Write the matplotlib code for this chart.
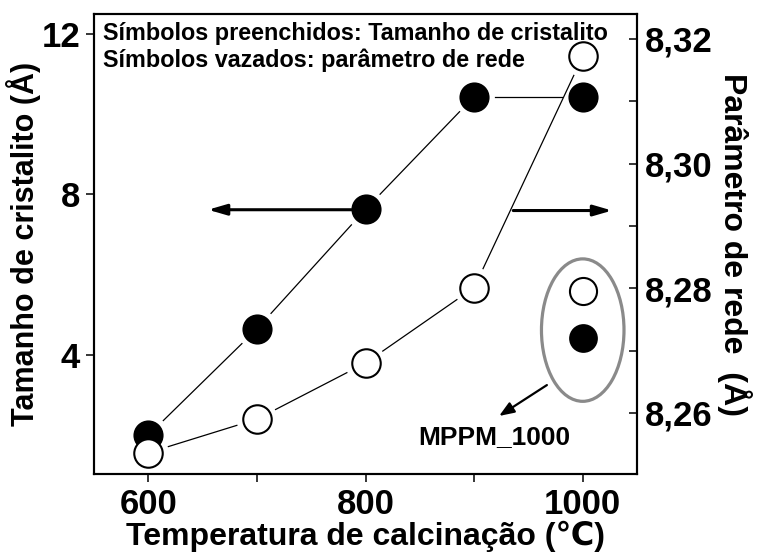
import numpy as np
import matplotlib
matplotlib.use("Agg")
import matplotlib.pyplot as plt
from matplotlib.patches import Ellipse

# fonte parecida com Arial negrito
plt.rcParams['font.family'] = ['Liberation Sans', 'DejaVu Sans']
plt.rcParams['font.weight'] = 'bold'

# dados
temperatura = [600, 700, 800, 900, 1000]
tamanho_cristalito = [2.0, 4.65, 7.63, 10.44, 10.44]      # símbolos preenchidos (eixo esquerdo)
parametro_rede = [8.2536, 8.2590, 8.2680, 8.2801, 8.3172]  # símbolos vazados (eixo direito)

# amostra MPPM_1000
mppm_temperatura = [1000]
mppm_tamanho = [4.42]
mppm_parametro = [8.2795]

xticks = [600, 700, 800, 900, 1000]
xtick_labels = ['600', '', '800', '', '1000']
yticks_esq = [4, 8, 12]
yticks_dir = [8.26, 8.28, 8.30, 8.32]
yticks_dir_labels = ['8,26', '8,28', '8,30', '8,32']
yticks_dir_menores = [8.27, 8.29, 8.31]

fig = plt.figure(figsize=(7.6, 5.56), dpi=100)
ax = fig.add_axes([0.1237, 0.1475, 0.7145, 0.8273])
ax2 = ax.twinx()

ax.set_xlim(550, 1050)
ax.set_ylim(1.034, 12.498)
ax2.set_ylim(8.2502, 8.324)


# linhas finas que não encostam nos símbolos
def linha_com_folga(eixo, xs, ys, folga=21):
    trans = eixo.transData
    pts = trans.transform(np.column_stack([xs, ys]))
    for p0, p1 in zip(pts[:-1], pts[1:]):
        d = p1 - p0
        u = d / np.hypot(*d)
        seg = trans.inverted().transform([p0 + u * folga, p1 - u * folga])
        eixo.plot(seg[:, 0], seg[:, 1], color='black', lw=0.9, zorder=1)


linha_com_folga(ax, temperatura, tamanho_cristalito)
linha_com_folga(ax2, temperatura, parametro_rede)

ms = 20.5
ax.plot(temperatura, tamanho_cristalito, 'o', ms=ms, mfc='black', mec='black', mew=1.2, zorder=3)
ax2.plot(temperatura, parametro_rede, 'o', ms=ms, mfc='white', mec='black', mew=1.5, zorder=3)
ax.plot(mppm_temperatura, mppm_tamanho, 'o', ms=ms - 1, mfc='black', mec='black', mew=1.2, zorder=3)
ax2.plot(mppm_temperatura, mppm_parametro, 'o', ms=ms - 1, mfc='white', mec='black', mew=1.5, zorder=3)

# setas indicando os eixos
seta = dict(arrowstyle='-|>,head_length=1.1,head_width=0.32', lw=2.2, color='black',
            shrinkA=0, shrinkB=0, mutation_scale=10)
ax.annotate('', xy=(655, 7.62), xytext=(787, 7.62), arrowprops=seta)
ax.annotate('', xy=(1027, 7.6), xytext=(936, 7.6), arrowprops=seta)

# elipse cinza em volta da amostra MPPM_1000
ax.add_patch(Ellipse((1000, 4.62), width=76, height=3.55, fill=False,
                     edgecolor='#8a8a8a', lw=2.3, zorder=2))
ax.annotate('', xy=(923, 2.48), xytext=(967, 3.25),
            arrowprops=dict(arrowstyle='-|>,head_length=0.9,head_width=0.35', lw=1.6,
                            color='black', shrinkA=0, shrinkB=0, mutation_scale=10))
ax.text(919, 1.96, 'MPPM_1000', fontsize=19, fontweight='bold', ha='center', va='center')

# legenda em texto
ax.text(0.0166, 0.9587, 'Símbolos preenchidos: Tamanho de cristalito', transform=ax.transAxes,
        fontsize=16.8, fontweight='bold', ha='left', va='center')
ax.text(0.0166, 0.90, 'Símbolos vazados: parâmetro de rede', transform=ax.transAxes,
        fontsize=16.8, fontweight='bold', ha='left', va='center')

# eixos
ax.set_xticks(xticks)
ax.set_xticklabels(xtick_labels)
ax.set_yticks(yticks_esq)
ax.set_yticklabels([str(v) for v in yticks_esq])
ax2.set_yticks(yticks_dir)
ax2.set_yticklabels(yticks_dir_labels)
ax2.set_yticks(yticks_dir_menores, minor=True)

ax.tick_params(axis='x', direction='out', length=6, width=1.1, labelsize=25, pad=4)
ax.tick_params(axis='y', direction='out', length=6, width=1.1, labelsize=25, pad=4)
ax2.tick_params(axis='y', which='both', direction='in', length=6, width=1.1, labelsize=25, pad=6)

for eixo in (ax, ax2):
    for sp in eixo.spines.values():
        sp.set_linewidth(1.5)

ax.set_xlabel('Temperatura de calcinação (℃)', fontsize=23, fontweight='bold', labelpad=0)
ax.set_ylabel('Tamanho de cristalito (Å)', fontsize=22, fontweight='bold')
ax.yaxis.set_label_coords(-0.097, 0.5)
ax2.set_ylabel('Parâmetro de rede  (Å)', fontsize=23, fontweight='bold', rotation=270, labelpad=28)

fig.savefig('out.png', dpi=100)
